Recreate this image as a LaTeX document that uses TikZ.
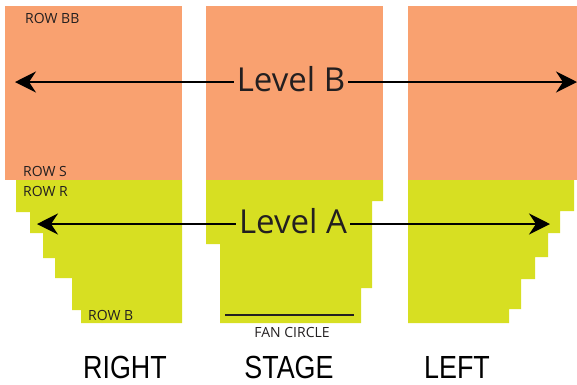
\documentclass[tikz,border=0pt]{standalone}
\usepackage{fontspec}
\setmainfont{Open Sans}
\newfontfamily\sidefont[FakeStretch=0.84]{Liberation Sans}
\usepackage{tikz}
\usetikzlibrary{arrows.meta}
\definecolor{levelb}{RGB}{249,161,112}
\definecolor{levela}{RGB}{215,223,34}
\definecolor{inkgray}{RGB}{35,31,32}

\begin{document}
\begin{tikzpicture}[x=1pt,y=-1pt,
  rowlabel/.style={anchor=base west,inner sep=0pt,text=inkgray,font=\fontsize{14}{16}\selectfont},
  levellabel/.style={anchor=base,inner sep=3pt,text=inkgray,font=\fontsize{33}{36}\selectfont},
  sidelabel/.style={anchor=base,inner sep=0pt,text depth=0pt,font=\sidefont\fontsize{32}{36}\selectfont},
  levelarrow/.style={line width=2.6pt,black,-{Stealth[length=21pt,width=21pt,inset=7pt]}}]
\useasboundingbox (0,0) rectangle (577,384);

\fill[levelb] (5,6) rectangle (182,180);
\fill[levelb] (206,6) rectangle (383,180);
\fill[levelb] (408,6) rectangle (577,180);

\fill[levela] (16,180) -- (182,180) -- (182,323) -- (81,323) -- (81,310) -- (72,310)
  -- (72,278) -- (55,278) -- (55,258) -- (43,258) -- (43,233) -- (30,233)
  -- (30,212) -- (16,212) -- cycle;
\fill[levela] (206,180) -- (383,180) -- (383,201) -- (372,201) -- (372,288) -- (361,288)
  -- (361,323) -- (220,323) -- (220,244) -- (206,244) -- cycle;
\fill[levela] (408,180) -- (574,180) -- (574,211) -- (560,211) -- (560,233) -- (548,233)
  -- (548,257) -- (535,257) -- (535,279) -- (521,279) -- (521,309) -- (509,309)
  -- (509,323) -- (408,323) -- cycle;

\coordinate (fanL) at (225,315);
\coordinate (fanR) at (354,315);
\draw[line width=2.4pt,inkgray] (fanL) -- (fanR);

\node[rowlabel] (rowBB) at (25,23) {ROW BB};
\node[rowlabel] (rowS) at (23,176) {ROW S};
\node[rowlabel] (rowR) at (23,196) {ROW R};
\node[rowlabel] (rowB) at (88,320) {ROW B};
\node[rowlabel,anchor=base] (fan) at (292,337) {FAN CIRCLE};

\node[levellabel] (lvlB) at (291,91) {Level B};
\node[levellabel] (lvlA) at (293,233) {Level A};

\coordinate (Bleft) at (15,82);
\coordinate (Bright) at (577,82);
\coordinate (Aleft) at (37,224);
\coordinate (Aright) at (550,224);

\draw[levelarrow] (lvlB.west |- Bleft) -- (Bleft);
\draw[levelarrow] (lvlB.east |- Bright) -- (Bright);
\draw[levelarrow] (lvlA.west |- Aleft) -- (Aleft);
\draw[levelarrow] (lvlA.east |- Aright) -- (Aright);

\node[sidelabel] (right) at (125,378.5) {RIGHT};
\node[sidelabel] (stage) at (289,378.5) {STAGE};
\node[sidelabel] (left) at (457,378.5) {LEFT};
\end{tikzpicture}
\end{document}
